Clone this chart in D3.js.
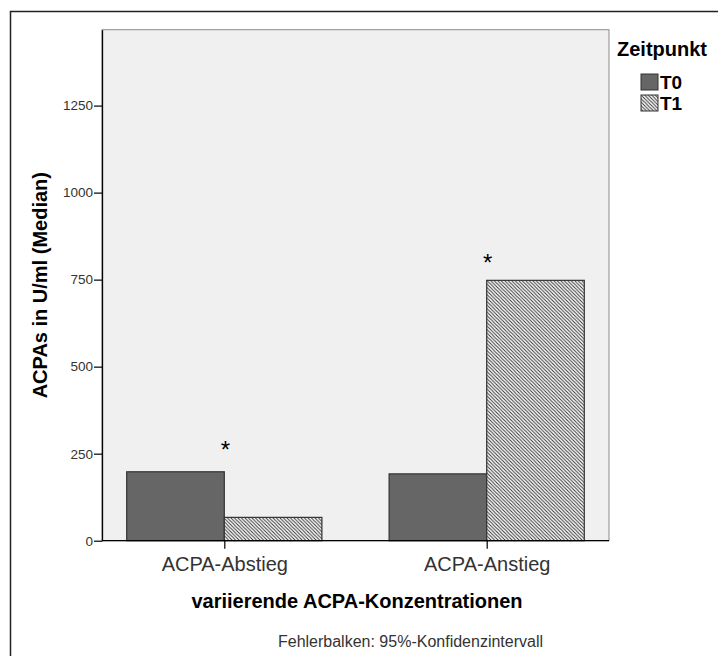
<!DOCTYPE html>
<html><head><meta charset="utf-8">
<script src="https://cdn.jsdelivr.net/npm/d3@7"></script>
<style>body{margin:0;background:#fff}svg{display:block}text{font-family:"Liberation Sans",Arial,sans-serif}</style>
</head><body><svg id="c" width="718" height="656"></svg>
<script>
const categories = ["ACPA-Abstieg", "ACPA-Anstieg"];
const seriesNames = ["T0", "T1"];
const valuesT0 = [198, 192];
const valuesT1 = [67, 748];
const yTicks = [0, 250, 500, 750, 1000, 1250];
const yMax = 1468;
const significance = ["*", "*"];
const significanceAt = [275, 812];
const yTitle = "ACPAs in U/ml (Median)";
const xTitle = "variierende ACPA-Konzentrationen";
const legendTitle = "Zeitpunkt";
const footnote = "Fehlerbalken: 95%-Konfidenzintervall";

const svg = d3.select("#c");
const L = 102, R = 609, T = 29.7, B = 540.7;
const FONT = "'Liberation Sans',Arial,sans-serif";

const defs = svg.append("defs");
const pat = defs.append("pattern").attr("id","hatch").attr("patternUnits","userSpaceOnUse")
  .attr("width",3.5).attr("height",3.5);
pat.append("rect").attr("width",3.5).attr("height",3.5).attr("fill","#fff");
pat.append("path").attr("d","M-1,-1L4.5,4.5M2.5,-1L4.5,1M-1,2.5L1,4.5")
  .attr("stroke","#333").attr("stroke-width",1);

// outer frame
svg.append("rect").attr("x",10.5).attr("y",11.5).attr("width",800).attr("height",800)
  .attr("fill","none").attr("stroke","#222").attr("stroke-width",1.5);

// plot background
svg.append("rect").attr("x",L).attr("y",T).attr("width",R-L).attr("height",B-T)
  .attr("fill","#f0f0f0").attr("stroke","#8a8a8a").attr("stroke-width",1);

const y = d3.scaleLinear().domain([0, yMax]).range([B, T]);
const barW = 97.6;
const xc = d3.scalePoint().domain(categories).range([224.3, 486.7]);
const xs = d3.scaleBand().domain(seriesNames).range([-barW, barW]);

const data = [];
categories.forEach((c,i)=>{
  data.push({cat:c, s:"T0", v:valuesT0[i]});
  data.push({cat:c, s:"T1", v:valuesT1[i]});
});
svg.append("g").selectAll("rect").data(data).join("rect")
  .attr("x", d=> xc(d.cat)+xs(d.s))
  .attr("width", xs.bandwidth())
  .attr("y", d=> y(d.v))
  .attr("height", d=> B - y(d.v))
  .attr("fill", d=> d.s==="T0" ? "#666666" : "url(#hatch)")
  .attr("stroke","#333").attr("stroke-width",1.2);

// y axis
const yAx = svg.append("g").attr("transform",`translate(${L},0)`)
  .call(d3.axisLeft(y).tickValues(yTicks).tickFormat(d3.format("d")).tickSize(8).tickPadding(1).tickSizeOuter(0));
yAx.select(".domain").attr("stroke","#000").attr("stroke-width",1.3);
yAx.selectAll(".tick line").attr("stroke","#000").attr("stroke-width",1.2);
yAx.selectAll("text").attr("font-size",13.5).attr("fill","#333").attr("font-family",FONT);

// x axis
const xAx = svg.append("g").attr("transform",`translate(0,${B})`)
  .call(d3.axisBottom(xc).tickSize(8).tickSizeOuter(0));
xAx.select(".domain").attr("d",`M${L},0H${R}`).attr("stroke","#000").attr("stroke-width",1.3);
xAx.selectAll(".tick line").attr("stroke","#000").attr("stroke-width",1.2);
xAx.selectAll("text").attr("y",30).attr("dy",null).attr("font-size",20).attr("fill","#333").attr("font-family",FONT);

// significance
const sFont = 24;
svg.append("g").selectAll("text").data(categories).join("text")
  .attr("x", d=> xc(d)+1)
  .attr("y", (d,i)=> y(significanceAt[i]) + 0.56*sFont)
  .attr("text-anchor","middle").attr("font-size",sFont).attr("fill","#000")
  .text((d,i)=> significance[i]);

// titles
svg.append("text").attr("transform",`translate(46.5,${(T+B)/2}) rotate(-90)`)
  .attr("text-anchor","middle").attr("font-size",20).attr("font-weight","bold").attr("fill","#000")
  .text(yTitle);
svg.append("text").attr("x",357).attr("y",608).attr("text-anchor","middle")
  .attr("font-size",20).attr("font-weight","bold").attr("fill","#000").text(xTitle);
svg.append("text").attr("x",410.5).attr("y",647).attr("text-anchor","middle")
  .attr("font-size",16).attr("fill","#333").text(footnote);

// legend
const lg = svg.append("g");
lg.append("text").attr("x",617).attr("y",56).attr("font-size",20).attr("font-weight","bold").text(legendTitle);
seriesNames.forEach((s,i)=>{
  const yy = 74 + i*21;
  lg.append("rect").attr("x",641).attr("y",yy).attr("width",17).attr("height",16)
    .attr("fill", s==="T0" ? "#666666" : "url(#hatch)").attr("stroke","#333");
  lg.append("text").attr("x",660).attr("y",yy+15).attr("font-size",19).attr("font-weight","bold").text(s);
});
</script></body></html>
